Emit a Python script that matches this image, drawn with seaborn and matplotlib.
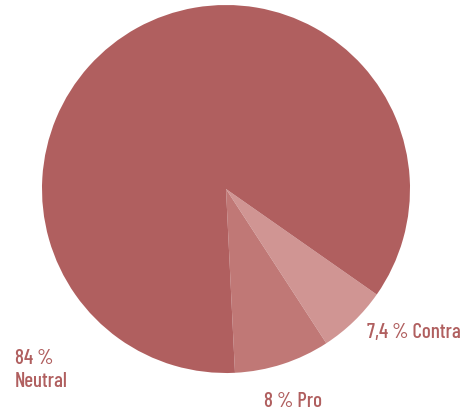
import matplotlib
matplotlib.use("Agg")
import matplotlib.pyplot as plt
import seaborn as sns

# shares as drawn in the picture (wedge angles), plus the printed labels
categories = ["Contra", "Pro", "Neutral"]
shares = [6.1, 8.4, 85.5]
label_texts = ["7,4 % Contra", "8 % Pro", "84 %\nNeutral"]

colors = ["#d09593", "#c07876", "#b05f5f"]
text_color = "#b05f5f"

sns.set_style("white")
plt.rcParams["font.family"] = ["Barlow Condensed", "DejaVu Sans"]

fig = plt.figure(figsize=(4.65, 4.14), dpi=100)
ax = fig.add_axes([42 / 465, 40 / 414, 368 / 465, 368 / 414])

ax.pie(shares, colors=colors, startangle=-35, counterclock=False,
       radius=1, wedgeprops=dict(linewidth=0))
ax.set_xlim(-1, 1)
ax.set_ylim(-1, 1)
ax.set_aspect("equal")
ax.axis("off")

# label anchor points (left, baseline) in radius units
label_pos = [(0.767, -0.805), (0.207, -1.179), (-1.147, -1.070)]
for txt, (x, y) in zip(label_texts, label_pos):
    ax.text(x, y, txt, ha="left", va="baseline", color=text_color,
            fontsize=15, fontweight=500, linespacing=1.25, clip_on=False)

fig.savefig("out.png", dpi=100)
